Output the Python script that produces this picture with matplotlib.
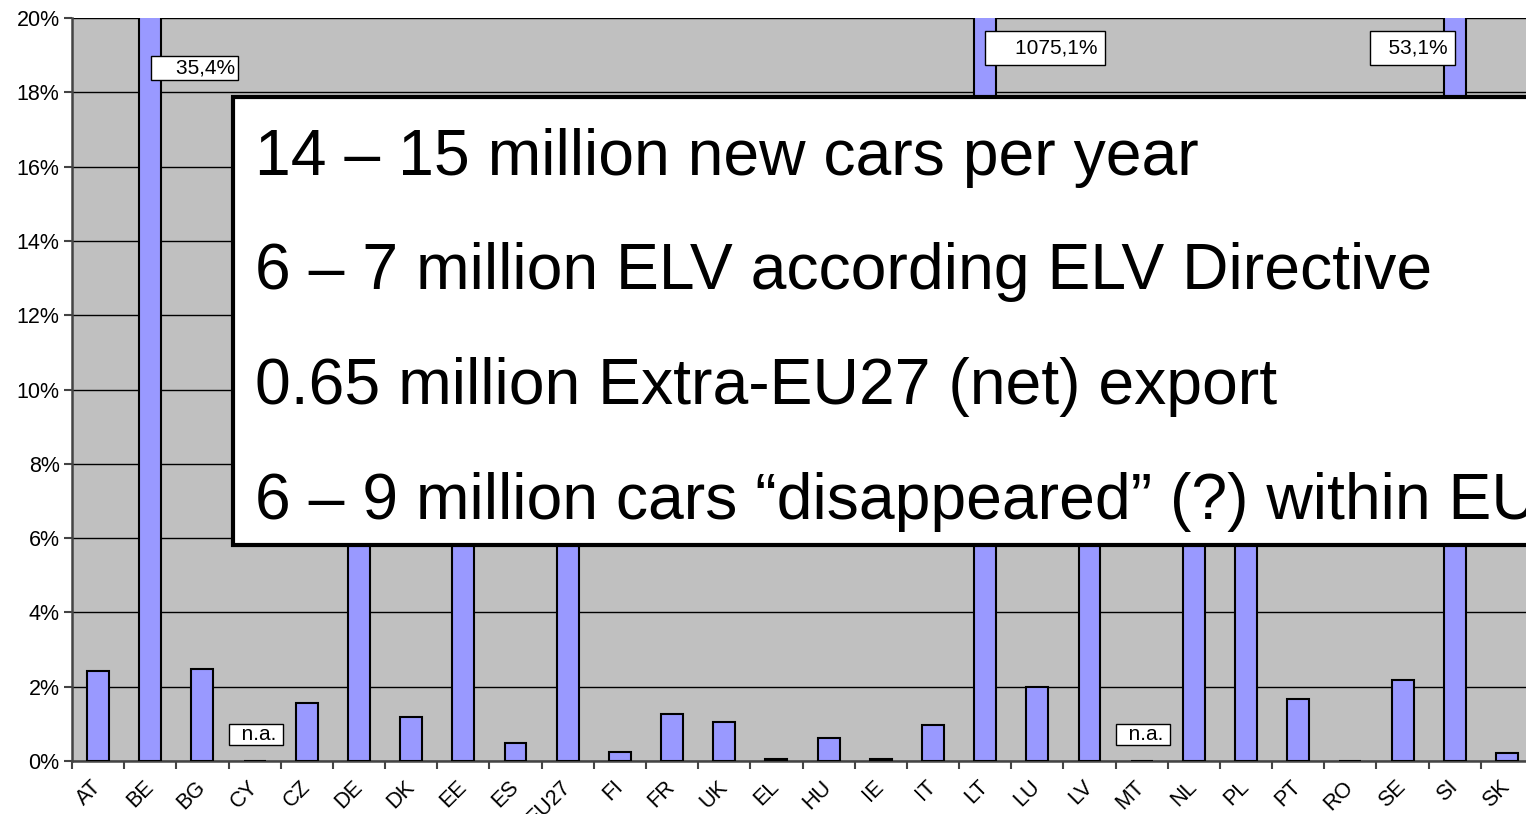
import numpy as np
import matplotlib
matplotlib.use("Agg")
import matplotlib.pyplot as plt
from matplotlib.patches import Rectangle
from matplotlib.transforms import ScaledTranslation

plt.rcParams["font.family"] = ["Liberation Sans", "DejaVu Sans"]

countries = ["AT", "BE", "BG", "CY", "CZ", "DE", "DK", "EE", "ES", "EU27",
             "FI", "FR", "UK", "EL", "HU", "IE", "IT", "LT", "LU", "LV",
             "MT", "NL", "PL", "PT", "RO", "SE", "SI", "SK"]
# share in % (NaN = not available); bars behind the text box are estimates
values = [2.42, 35.4, 2.47, np.nan, 1.57, 8.0, 1.19, 10.0, 0.49, 7.0,
          0.24, 1.27, 1.05, 0.05, 0.63, 0.05, 0.98, 1075.1, 2.0, 12.0,
          np.nan, 9.0, 11.0, 1.66, 0.01, 2.17, 53.1, 0.21]
ytick_vals = [0, 2, 4, 6, 8, 10, 12, 14, 16, 18, 20]
box_lines = ["14 \u2013 15 million new cars per year",
             "6 \u2013 7 million ELV according ELV Directive",
             "0.65 million Extra-EU27 (net) export",
             "6 \u2013 9 million cars \u201cdisappeared\u201d (?) within EU"]

YMAX = 20
# off-scale bar labels: (x offset of box right edge, height, leading pad, box pad)
clip_labels = {"BE": (1.63, 18.65, "    ", 0.12),
               "LT": (2.16, 19.2, "    ", 0.35),
               "SI": (-0.13, 19.2, "  ", 0.35)}

fig = plt.figure(figsize=(15.26, 8.14), dpi=100)
ax = fig.add_axes([72 / 1526, 1 - 761 / 814, 1461 / 1526, 743 / 814])
ax.set_facecolor("#C0C0C0")

x = np.arange(len(countries))
vals = np.array(values, dtype=float)
ax.bar(x, np.nan_to_num(vals), width=0.42, color="#9999FF",
       edgecolor="black", linewidth=1.5, zorder=3)

ax.set_xlim(-0.5, len(countries) - 0.5)
ax.set_ylim(0, YMAX)
ax.set_yticks(ytick_vals)
ax.set_yticklabels([f"{v}%" for v in ytick_vals], fontsize=15.5)
ax.grid(axis="y", color="black", linewidth=1.0, zorder=1)
ax.set_axisbelow(True)

ax.set_xticks(x)
ax.set_xticklabels(countries, fontsize=15.5, rotation=45, ha="right",
                   va="center", rotation_mode="anchor")
shift = ScaledTranslation(-12 / 100, 0, fig.dpi_scale_trans)
for lab in ax.get_xticklabels():
    lab.set_transform(lab.get_transform() + shift)
ax.set_xticks(np.arange(len(countries)) - 0.5, minor=True)
ax.tick_params(axis="x", which="major", length=0, pad=16.5)
ax.tick_params(axis="x", which="minor", length=6, width=1.5, color="#444")
ax.tick_params(axis="y", length=6, width=1.5, color="#444", pad=3)

for s in ["top", "right"]:
    ax.spines[s].set_visible(False)
for s in ["left", "bottom"]:
    ax.spines[s].set_color("#444")
    ax.spines[s].set_linewidth(1.8)

# value labels for bars beyond the scale
for c, (dx, yy, lead, pad) in clip_labels.items():
    i = countries.index(c)
    txt = f"{values[i]:.1f}%".replace(".", ",")
    ax.text(i + dx, yy, lead + txt, ha="right", va="center", fontsize=15,
            zorder=5,
            bbox=dict(boxstyle=f"square,pad={pad}", facecolor="white",
                      edgecolor="black", linewidth=1.0))

# n.a. labels
for i, v in enumerate(values):
    if np.isnan(v):
        ax.text(i + 0.02, 0.71, "  n.a. ", ha="center", va="center",
                fontsize=15, zorder=5,
                bbox=dict(boxstyle="square,pad=0.05", facecolor="white",
                          edgecolor="black", linewidth=1.0))

# overlay text box
fig.patches.append(Rectangle((233 / 1526, 1 - 545 / 814),
                             1.0, (545 - 97) / 814,
                             transform=fig.transFigure, facecolor="white",
                             edgecolor="black", linewidth=3, zorder=10))
for k, line in enumerate(box_lines):
    fig.text(255 / 1526, 1 - (175 + 114.5 * k) / 814, line, fontsize=46.3,
             ha="left", va="baseline", zorder=11)

fig.savefig("out.png", dpi=100, facecolor="white")
